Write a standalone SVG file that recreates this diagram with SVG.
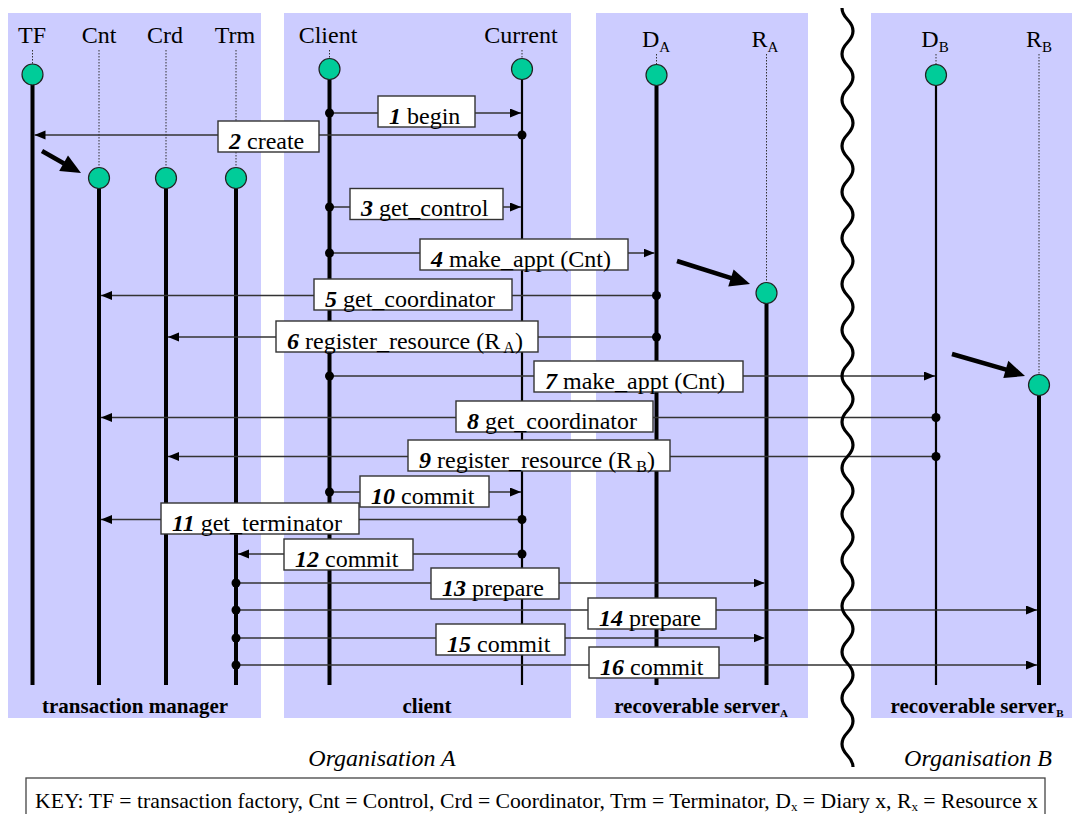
<svg xmlns="http://www.w3.org/2000/svg" width="1072" height="814" viewBox="0 0 1072 814">
  <defs>
    <style>
      .panel { fill: #ccccff; }
      .hdr { font-family: "Liberation Serif", "Times New Roman", serif; font-size: 24px; text-anchor: middle; fill: #000; }
      .hdr .sub { font-size: 15px; }
      .guide { stroke: #333; stroke-width: 1; stroke-dasharray: 1.5 1.5; fill: none; }
      .life { stroke: #000; stroke-width: 4; }
      .life.thin { stroke-width: 2.2; }
      .obj { fill: #00cc99; stroke: #222; stroke-width: 1.2; }
      .msg { stroke: #333; stroke-width: 1.4; fill: none; marker-end: url(#ah); }
      .src { fill: #000; }
      .lbl rect { fill: #fff; stroke: #333; stroke-width: 1.4; }
      .lbl text { font-family: "Liberation Serif", "Times New Roman", serif; font-size: 24px; fill: #000; }
      .num { font-weight: bold; font-style: italic; }
      .lbl .sub { font-size: 16px; }
      .grp { font-family: "Liberation Serif", "Times New Roman", serif; font-size: 21px; font-weight: bold; text-anchor: middle; }
      .grp .sub { font-size: 11px; }
      .org { font-family: "Liberation Serif", "Times New Roman", serif; font-size: 24px; font-style: italic; text-anchor: middle; }
      .key { font-family: "Liberation Serif", "Times New Roman", serif; font-size: 21.7px; }
      .key .sub { font-size: 13px; }
      .create { stroke: #000; stroke-width: 4.5; fill: none; }
    </style>
    <marker id="ah" markerUnits="userSpaceOnUse" markerWidth="12" markerHeight="10" refX="11" refY="4.5" orient="auto">
      <path d="M0,0 L11,4.5 L0,9 Z" fill="#000"/>
    </marker>
  </defs>

  <!-- background swim-lane panels -->
  <g id="panels">
    <rect class="panel" x="8" y="13" width="253" height="705"/>
    <rect class="panel" x="284" y="13" width="287" height="705"/>
    <rect class="panel" x="596" y="13" width="212" height="705"/>
    <rect class="panel" x="871" y="13" width="201" height="705"/>
  </g>

  <!-- lifelines -->
  <g id="tf">
    <line class="guide" x1="32.5" y1="50" x2="32.5" y2="64"/>
    <line class="life" x1="32.5" y1="84" x2="32.5" y2="685"/>
    <circle class="obj" cx="32.5" cy="74.5" r="10.5"/>
    <text class="hdr" x="32" y="43">TF</text>
  </g>
  <g id="cnt">
    <line class="guide" x1="99" y1="50" x2="99" y2="167"/>
    <line class="life" x1="99" y1="188" x2="99" y2="685"/>
    <circle class="obj" cx="99" cy="178" r="10.5"/>
    <text class="hdr" x="99" y="43">Cnt</text>
  </g>
  <g id="crd">
    <line class="guide" x1="166" y1="50" x2="166" y2="167"/>
    <line class="life" x1="166" y1="188" x2="166" y2="685"/>
    <circle class="obj" cx="166" cy="178" r="10.5"/>
    <text class="hdr" x="165" y="43">Crd</text>
  </g>
  <g id="trm">
    <line class="guide" x1="236" y1="50" x2="236" y2="167"/>
    <line class="life" x1="236" y1="188" x2="236" y2="685"/>
    <circle class="obj" cx="236" cy="178" r="10.5"/>
    <text class="hdr" x="235" y="43">Trm</text>
  </g>
  <g id="client">
    <line class="guide" x1="329.5" y1="50" x2="329.5" y2="58"/>
    <line class="life" x1="329.5" y1="78" x2="329.5" y2="685"/>
    <circle class="obj" cx="329.5" cy="69" r="10.5"/>
    <text class="hdr" x="328" y="43">Client</text>
  </g>
  <g id="current">
    <line class="guide" x1="522" y1="50" x2="522" y2="58"/>
    <line class="life thin" x1="522" y1="78" x2="522" y2="685"/>
    <circle class="obj" cx="522" cy="69" r="10.5"/>
    <text class="hdr" x="521" y="43">Current</text>
  </g>
  <g id="diary-a">
    <line class="guide" x1="656.5" y1="54" x2="656.5" y2="64"/>
    <line class="life" x1="656.5" y1="84" x2="656.5" y2="685"/>
    <circle class="obj" cx="656.5" cy="75" r="10.5"/>
    <text class="hdr" x="656" y="46.5">D<tspan class="sub" dy="5">A</tspan></text>
  </g>
  <g id="resource-a">
    <line class="guide" x1="766.5" y1="54" x2="766.5" y2="282"/>
    <line class="life" x1="766.5" y1="302" x2="766.5" y2="685"/>
    <circle class="obj" cx="766.5" cy="293" r="10.5"/>
    <text class="hdr" x="765" y="46.5">R<tspan class="sub" dy="5">A</tspan></text>
  </g>
  <g id="diary-b">
    <line class="guide" x1="936" y1="54" x2="936" y2="64"/>
    <line class="life thin" x1="936" y1="84" x2="936" y2="685"/>
    <circle class="obj" cx="936" cy="75" r="10.5"/>
    <text class="hdr" x="935" y="46.5">D<tspan class="sub" dy="5">B</tspan></text>
  </g>
  <g id="resource-b">
    <line class="guide" x1="1039" y1="54" x2="1039" y2="374"/>
    <line class="life" x1="1039" y1="394" x2="1039" y2="685"/>
    <circle class="obj" cx="1039" cy="385" r="10.5"/>
    <text class="hdr" x="1039" y="46.5">R<tspan class="sub" dy="5">B</tspan></text>
  </g>

  <!-- messages -->
  <g id="connectors">
    <line class="msg" x1="329.5" y1="113" x2="521" y2="113"/>
    <line class="msg" x1="522" y1="135" x2="34.5" y2="135"/>
    <line class="msg" x1="329.5" y1="207" x2="521" y2="207"/>
    <line class="msg" x1="329.5" y1="253" x2="654.5" y2="253"/>
    <line class="msg" x1="656.5" y1="295.5" x2="101" y2="295.5"/>
    <line class="msg" x1="656.5" y1="337" x2="168" y2="337"/>
    <line class="msg" x1="329.5" y1="376" x2="935" y2="376"/>
    <line class="msg" x1="936" y1="417.5" x2="101" y2="417.5"/>
    <line class="msg" x1="936" y1="456.5" x2="168" y2="456.5"/>
    <line class="msg" x1="329.5" y1="492" x2="521" y2="492"/>
    <line class="msg" x1="522" y1="519.5" x2="101" y2="519.5"/>
    <line class="msg" x1="522" y1="554" x2="238" y2="554"/>
    <line class="msg" x1="236" y1="583" x2="764.5" y2="583"/>
    <line class="msg" x1="236" y1="610" x2="1037" y2="610"/>
    <line class="msg" x1="236" y1="638" x2="764.5" y2="638"/>
    <line class="msg" x1="236" y1="665" x2="1037" y2="665"/>
    <!-- call origins -->
    <circle class="src" cx="329.5" cy="113" r="4.5"/>
    <circle class="src" cx="522" cy="135" r="4.5"/>
    <circle class="src" cx="329.5" cy="207" r="4.5"/>
    <circle class="src" cx="329.5" cy="253" r="4.5"/>
    <circle class="src" cx="656.5" cy="295.5" r="4.5"/>
    <circle class="src" cx="656.5" cy="337" r="4.5"/>
    <circle class="src" cx="329.5" cy="376" r="4.5"/>
    <circle class="src" cx="936" cy="417.5" r="4.5"/>
    <circle class="src" cx="936" cy="456.5" r="4.5"/>
    <circle class="src" cx="329.5" cy="492" r="4.5"/>
    <circle class="src" cx="522" cy="519.5" r="4.5"/>
    <circle class="src" cx="522" cy="554" r="4.5"/>
    <circle class="src" cx="236" cy="583" r="4.5"/>
    <circle class="src" cx="236" cy="610" r="4.5"/>
    <circle class="src" cx="236" cy="638" r="4.5"/>
    <circle class="src" cx="236" cy="665" r="4.5"/>
  </g>

  <!-- message labels -->
  <g id="message-labels" class="lbl">
    <rect x="378" y="96" width="97" height="31"/>
    <text x="389" y="123.5"><tspan class="num">1</tspan> begin</text>
    <rect x="218" y="121" width="101" height="31"/>
    <text x="229" y="148.5"><tspan class="num">2</tspan> create</text>
    <rect x="350" y="188.5" width="153" height="31"/>
    <text x="361" y="216"><tspan class="num">3</tspan> get_control</text>
    <rect x="420" y="239" width="208" height="31"/>
    <text x="431" y="266.5"><tspan class="num">4</tspan> make_appt (Cnt)</text>
    <rect x="314" y="279" width="198" height="31"/>
    <text x="325" y="306.5"><tspan class="num">5</tspan> get_coordinator</text>
    <rect x="276" y="321" width="262" height="31"/>
    <text x="287" y="348.5"><tspan class="num">6</tspan> register_resource (R<tspan class="sub" dy="4"> A</tspan><tspan dy="-4">)</tspan></text>
    <rect x="534" y="361" width="209" height="31"/>
    <text x="545" y="388.5"><tspan class="num">7</tspan> make_appt (Cnt)</text>
    <rect x="456" y="401" width="197" height="31"/>
    <text x="467" y="428.5"><tspan class="num">8</tspan> get_coordinator</text>
    <rect x="408" y="440" width="262" height="31"/>
    <text x="419" y="467.5"><tspan class="num">9</tspan> register_resource (R<tspan class="sub" dy="4"> B</tspan><tspan dy="-4">)</tspan></text>
    <rect x="360" y="476" width="129" height="31"/>
    <text x="371" y="503.5"><tspan class="num">10</tspan> commit</text>
    <rect x="161" y="503" width="198" height="31"/>
    <text x="172" y="530.5"><tspan class="num">11</tspan> get_terminator</text>
    <rect x="284" y="539" width="129" height="31"/>
    <text x="295" y="566.5"><tspan class="num">12</tspan> commit</text>
    <rect x="431" y="568" width="128" height="31"/>
    <text x="442" y="595.5"><tspan class="num">13</tspan> prepare</text>
    <rect x="588" y="598" width="128" height="31"/>
    <text x="599" y="625.5"><tspan class="num">14</tspan> prepare</text>
    <rect x="436" y="624" width="129" height="31"/>
    <text x="447" y="651.5"><tspan class="num">15</tspan> commit</text>
    <rect x="589" y="647" width="130" height="31"/>
    <text x="600" y="674.5"><tspan class="num">16</tspan> commit</text>
  </g>

  <!-- object creation pointers -->
  <g id="create-arrows">
    <line class="create" x1="42" y1="151" x2="64" y2="163.5"/>
    <polygon points="81,173 59.2,171 68,155.4" fill="#000"/>
    <line class="create" x1="677" y1="261" x2="732" y2="278.4"/>
    <polygon points="750,284 728.2,286.6 733.6,269.4" fill="#000"/>
    <line class="create" x1="952" y1="354" x2="1007" y2="369.8"/>
    <polygon points="1025,376 1003.3,378 1008.3,360.8" fill="#000"/>
  </g>

  <!-- organisational boundary -->
  <g id="boundary">
    <path d="M842,8 C842,19.5 853,19.5 853,31 S842,42.5 842,54 S853,65.5 853,77 S842,88.5 842,100 S853,111.5 853,123 S842,134.5 842,146 S853,157.5 853,169 S842,180.5 842,192 S853,203.5 853,215 S842,226.5 842,238 S853,249.5 853,261 S842,272.5 842,284 S853,295.5 853,307 S842,318.5 842,330 S853,341.5 853,353 S842,364.5 842,376 S853,387.5 853,399 S842,410.5 842,422 S853,433.5 853,445 S842,456.5 842,468 S853,479.5 853,491 S842,502.5 842,514 S853,525.5 853,537 S842,548.5 842,560 S853,571.5 853,583 S842,594.5 842,606 S853,617.5 853,629 S842,640.5 842,652 S853,663.5 853,675 S842,686.5 842,698 S853,709.5 853,721 S842,732.5 842,744 S853,755.5 853,767" fill="none" stroke="#000" stroke-width="3.2"/>
  </g>

  <!-- group captions -->
  <g id="captions">
    <text class="grp" x="135" y="713">transaction manager</text>
    <text class="grp" x="427" y="713">client</text>
    <text class="grp" x="701" y="713">recoverable server<tspan class="sub" dy="3.5">A</tspan></text>
    <text class="grp" x="977" y="713">recoverable server<tspan class="sub" dy="3.5">B</tspan></text>
    <text class="org" x="382" y="766">Organisation A</text>
    <text class="org" x="978" y="766">Organisation B</text>
  </g>

  <!-- legend -->
  <g id="key">
    <rect x="26" y="778" width="1019" height="50" fill="none" stroke="#444" stroke-width="1.3"/>
    <text class="key" x="35" y="808">KEY: TF = transaction factory, Cnt = Control, Crd = Coordinator, Trm = Terminator, D<tspan class="sub" dy="3">x</tspan><tspan dy="-3"> = Diary x, R</tspan><tspan class="sub" dy="3">x</tspan><tspan dy="-3"> = Resource x</tspan></text>
  </g>
</svg>
